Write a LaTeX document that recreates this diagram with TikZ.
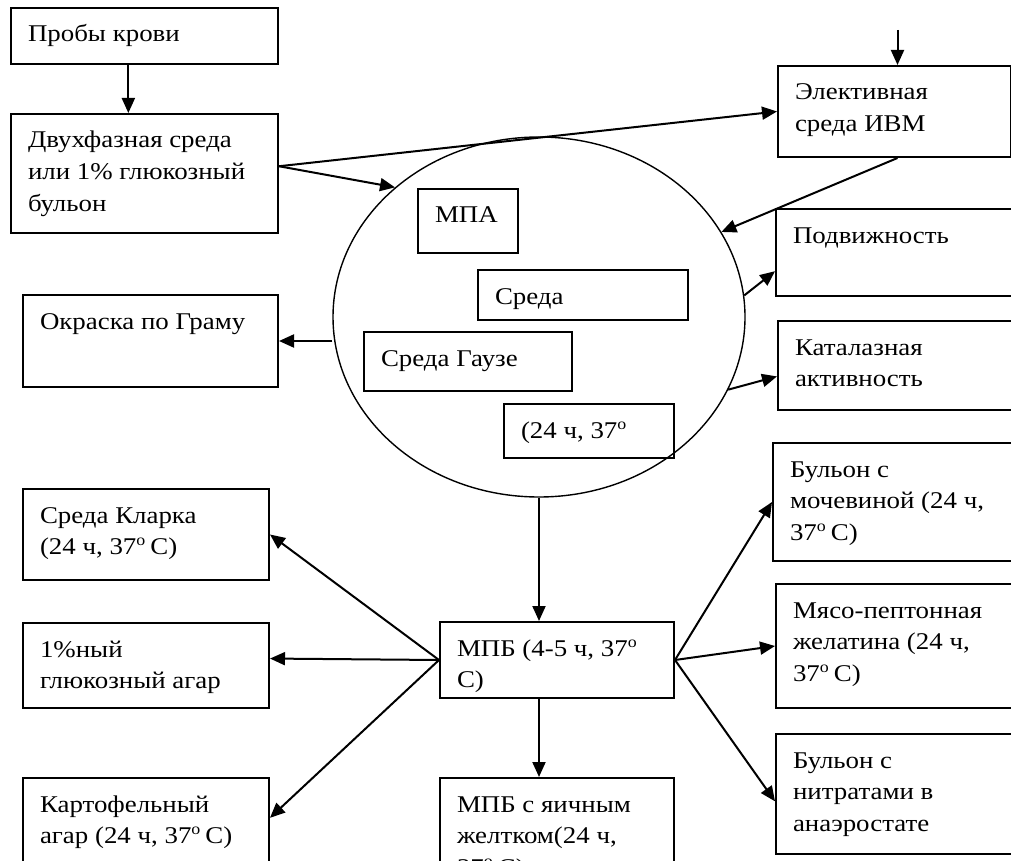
\documentclass[tikz,border=0pt]{standalone}
\usepackage{fontspec}
\setmainfont[FakeStretch=1.12]{Liberation Serif}
\usepackage{tikz}
\usetikzlibrary{arrows}
\usetikzlibrary{arrows.meta}
\usetikzlibrary{shapes}
\usetikzlibrary{calc}

\newlength{\pxu}
\setlength{\pxu}{0.5pt}
% box text: width, height (px), lines
\newcommand{\boxtext}[3]{\parbox[c][#2\pxu][t]{\dimexpr #1\pxu-34\pxu\relax}{\raggedright\rule{0pt}{34\pxu}#3}}
\newcommand{\dego}{\textsuperscript{o}}

\begin{document}
\begin{tikzpicture}[x=0.5pt,y=-0.5pt]
        \tikzset{box/.style = {draw, line width=1pt, anchor=north west, inner xsep=17\pxu, inner ysep=0pt, font=\fontsize{12}{15.8}\selectfont}}
        \tikzset{edge/.style = {->, > = {Triangle[length=7.5pt,width=6.5pt]}, line width=1pt}}
        \useasboundingbox (0,0) rectangle (1011,861);
        \clip (0,0) rectangle (1011,861);
        % vertices
        \node[ellipse, draw, line width=0.7pt, minimum width=412\pxu, minimum height=360\pxu, inner sep=0pt] (cultures) at (539,317) {};
        \node[box] (bloodsamples) at (10,7) {\boxtext{267}{56}{Пробы крови}};
        \node[box] (biphasicmedium) at (10,113) {\boxtext{267}{119}{Двухфазная среда\\или 1\% глюкозный\\бульон}};
        \node[box] (electivemedium) at (777,65) {\boxtext{233}{91}{Элективная\\среда ИВМ}};
        \node[box] (motility) at (775,208) {\boxtext{260}{87}{Подвижность}};
        \node[box] (catalase) at (777,320) {\boxtext{260}{89}{Каталазная\\активность}};
        \node[box] (gramstain) at (22,294) {\boxtext{255}{92}{Окраска по Граму}};
        \node[box] (mpa) at (417,188) {\boxtext{100}{64}{МПА}};
        \node[box] (medium) at (477,269) {\boxtext{210}{50}{Среда}};
        \node[box] (gausemedium) at (363,331) {\boxtext{208}{59}{Среда Гаузе}};
        \node[box] (incubation) at (503,403) {\boxtext{170}{54}{(24 ч, 37\dego}};
        \node[box] (mpb) at (439,621) {\boxtext{234}{76}{МПБ (4-5 ч, 37\dego\\С)}};
        \node[box] (yolkbroth) at (439,777) {\boxtext{234}{100}{МПБ с яичным\\желтком(24 ч,\\37\dego\,С)}};
        \node[box] (clarkmedium) at (22,488) {\boxtext{246}{91}{Среда Кларка\\(24 ч, 37\dego\,С)}};
        \node[box] (glucoseagar) at (22,622) {\boxtext{246}{85}{1\%ный\\глюкозный агар}};
        \node[box] (potatoagar) at (22,777) {\boxtext{246}{100}{Картофельный\\агар (24 ч, 37\dego\,С)}};
        \node[box] (ureabroth) at (772,442) {\boxtext{260}{118}{Бульон с\\мочевиной (24 ч,\\37\dego\,С)}};
        \node[box] (gelatin) at (775,583) {\boxtext{260}{124}{Мясо-пептонная\\желатина (24 ч,\\37\dego\,С)}};
        \node[box] (nitratebroth) at (775,733) {\boxtext{260}{120}{Бульон с\\нитратами в\\анаэростате}};
        \coordinate (biphasicout) at ($(biphasicmedium.north east)!0.44!(biphasicmedium.south east)$);
        \coordinate (ivmsource) at ($(electivemedium.north)+(3,-35)$);
        %edges
        \draw[edge] ($(bloodsamples.south west)!0.44!(bloodsamples.south east)$) -- ($(biphasicmedium.north west)!0.44!(biphasicmedium.north east)$);
        \draw[edge] (ivmsource) -- (ivmsource |- electivemedium.north);
        \draw[edge] (biphasicout) -- (electivemedium.west);
        \draw[edge] (biphasicout) -- (cultures.138);
        \draw[edge] ($(electivemedium.south)+(3,0)$) -- (cultures.25);
        \draw[edge] (cultures.6) -- ($(motility.north west)!0.71!(motility.south west)$);
        \draw[edge] (cultures.-21) -- ($(catalase.north west)!0.62!(catalase.south west)$);
        \draw[edge] (gramstain.east -| cultures.west) -- (gramstain.east);
        \draw[edge] (cultures.south) -- (cultures.south |- mpb.north);
        \draw[edge] (cultures.south |- mpb.south) -- (cultures.south |- yolkbroth.north);
        \draw[edge] (mpb.west) -- (clarkmedium.east);
        \draw[edge] (mpb.west) -- ($(glucoseagar.north east)!0.42!(glucoseagar.south east)$);
        \draw[edge] (mpb.west) -- ($(potatoagar.north east)!0.4!(potatoagar.south east)$);
        \draw[edge] (mpb.east) -- (ureabroth.west);
        \draw[edge] (mpb.east) -- (gelatin.west);
        \draw[edge] (mpb.east) -- ($(nitratebroth.north west)!0.56!(nitratebroth.south west)$);
    \end{tikzpicture}
\end{document}
